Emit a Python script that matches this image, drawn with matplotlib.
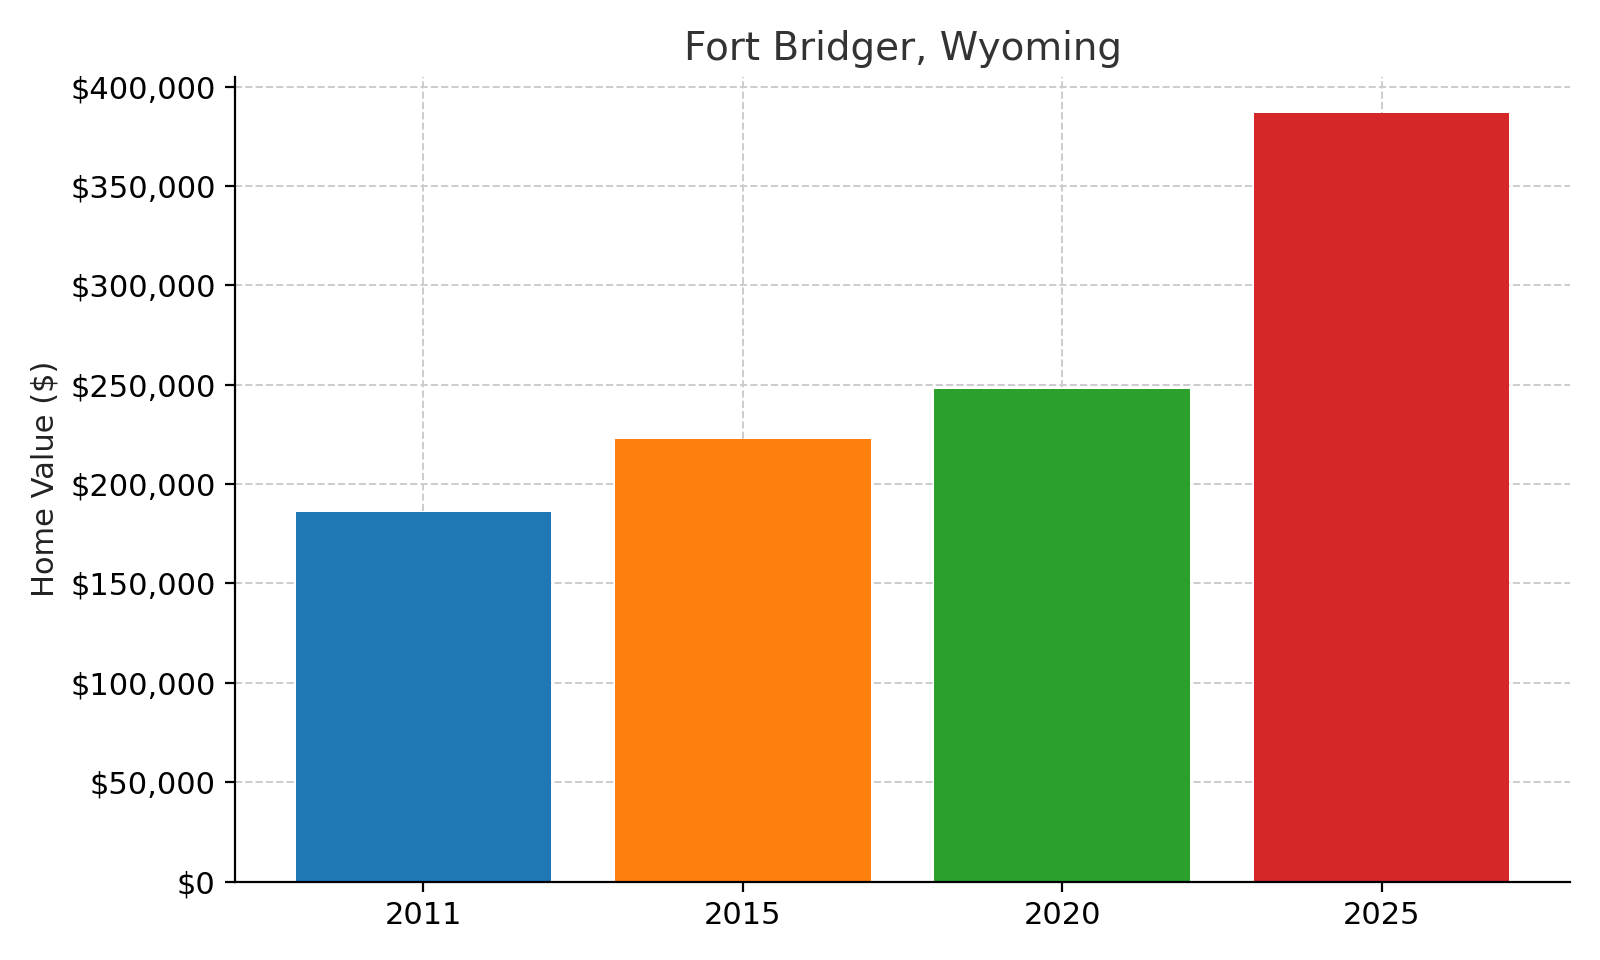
import matplotlib.pyplot as plt
from matplotlib.ticker import FuncFormatter

years = ["2011", "2015", "2020", "2025"]
values = [186000, 222500, 248000, 386500]
colors = ["#1f77b4", "#ff7f0e", "#2ca02c", "#d62728"]

fig, ax = plt.subplots(figsize=(8, 4.8), dpi=200)
ax.bar(years, values, color=colors, zorder=2)
ax.set_title("Fort Bridger, Wyoming", fontsize=14, color="#333333")
ax.set_ylabel("Home Value ($)", fontsize=11, color="#222222")
ax.yaxis.set_major_formatter(FuncFormatter(lambda v, p: f"${v:,.0f}"))
ax.set_ylim(0, 405000)
ax.tick_params(labelsize=11)
ax.grid(True, linestyle="--", color="#cccccc", linewidth=0.7, zorder=0)
ax.spines["top"].set_visible(False)
ax.spines["right"].set_visible(False)
plt.tight_layout()
plt.savefig("out.png")
